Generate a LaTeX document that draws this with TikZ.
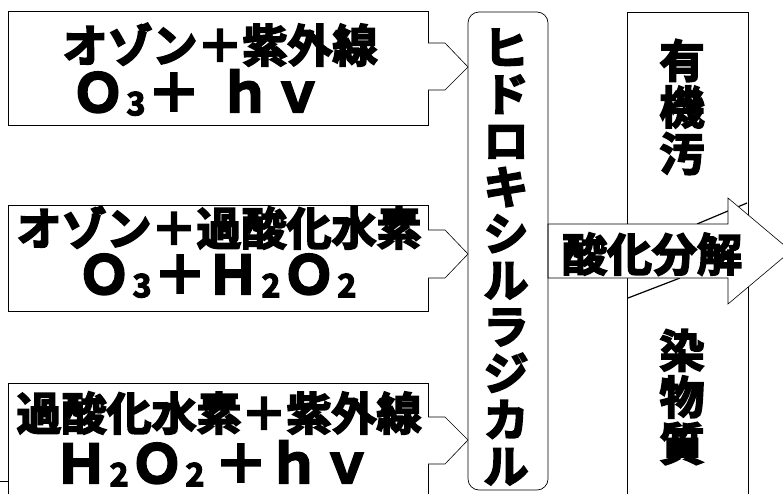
\documentclass[tikz,border=0pt]{standalone}
\usepackage{fontspec}
\newfontfamily\jp{Noto Sans CJK JP}[BoldFont={Noto Sans CJK JP Bold}, BoldFeatures={FakeBold=4}]
\newcommand\subj[1]{\hspace{2pt}\raisebox{-0.06em}{\fontsize{32pt}{32pt}\selectfont #1}\hspace{2pt}}
\tikzset{
  lbox/.style={draw=black, line width=0.9pt, fill=white, inner sep=0pt},
  txt/.style={inner sep=0pt, text height=38pt, text depth=3.6pt, font=\jp\bfseries\fontsize{45pt}{45pt}\selectfont},
  ltxt/.style={inner sep=0pt, text height=41pt, text depth=1pt, font=\jp\bfseries\fontsize{53pt}{53pt}\selectfont},
  vtxt/.style={inner sep=0pt, align=center, font=\jp\bfseries\fontsize{45pt}{46.5pt}\selectfont},
  chev/.style={draw=black, line width=0.6pt, fill=white},
  bigarrow/.style={draw=black, line width=0.6pt, fill=white},
}
\begin{document}
\begin{tikzpicture}[x=1pt,y=-1pt]
\useasboundingbox (0,0) rectangle (783,493);
% right target box
\draw[line width=0.6pt] (627,12) rectangle (748,520);
\node[vtxt] (t1) at (682,107) {有\\機\\汚};
\node[vtxt] (t2) at (682,397) {染\\物\\質};
\draw[line width=1.2pt] (697,224) -- (747,203);
\draw[line width=1.2pt] (628,298) -- (680,278);
% big arrow
\draw[bigarrow] (548,224) -- (728,224) -- (728,198) -- (791,251) -- (728,304) -- (728,278) -- (548,278) -- cycle;
\node[txt] (ox) at (652,254) {酸化分解};
% vertical rounded box
\node[draw=black, line width=0.7pt, rounded corners=11pt, minimum width=80pt, minimum height=478pt, inner sep=0pt] (rad) at (508,251) {};
\node[vtxt] (radt) at (506,257) {ヒ\\ド\\ロ\\キ\\シ\\ル\\ラ\\ジ\\カ\\ル};
% left boxes
\node[lbox, minimum width=420pt, minimum height=114pt] (b1) at (218,68) {};
\node[lbox, minimum width=420pt, minimum height=106pt] (b2) at (218,258) {};
\node[lbox, minimum width=420pt, minimum height=140pt] (b3) at (218,453) {};
\node[txt] (b1a) at (220,45) {オゾン＋紫外線};
\node[ltxt] (b1b) at (198,92) {Ｏ\subj{3}＋\hspace{18pt}ｈｖ};
\node[txt] (b2a) at (219,228) {オゾン＋過酸化水素};
\node[ltxt] (b2b) at (217,274) {Ｏ\subj{3}＋Ｈ\subj{2}Ｏ\subj{2}};
\node[txt] (b3a) at (219,413) {過酸化水素＋紫外線};
\node[ltxt] (b3b) at (214,463) {Ｈ\subj{2}Ｏ\subj{2}\hspace{8pt}＋ｈｖ};
% chevrons
\draw[chev] (428,43) -- (445,43) -- (468,67) -- (445,90) -- (428,90);
\draw[chev] (428,230) -- (445,230) -- (468,254) -- (445,278) -- (428,278);
\draw[chev] (428,417) -- (445,417) -- (468,440) -- (445,464) -- (428,464);
\coordinate (tk) at (0,481);
\draw[line width=0.6pt] (tk) -- (b3.west |- tk);
\end{tikzpicture}
\end{document}
